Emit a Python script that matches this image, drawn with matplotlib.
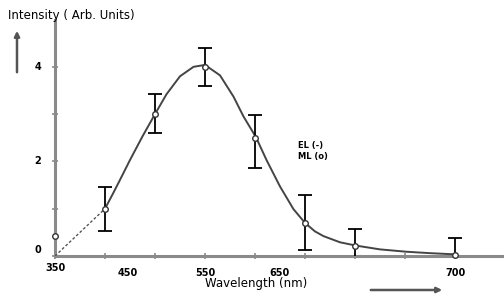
import matplotlib
matplotlib.use("Agg")
import matplotlib.pyplot as plt

# ML measurements (position index along wavelength axis)
ml_x = [0, 1, 2, 3, 4, 5, 6, 8]
ml_y = [0.42, 1.0, 3.0, 4.0, 2.5, 0.7, 0.21, 0.02]
ml_err_lo = [0.0, 0.47, 0.4, 0.4, 0.64, 0.57, 0.4, 0.44]
ml_err_hi = [0.0, 0.45, 0.43, 0.4, 0.48, 0.59, 0.36, 0.36]

# EL curve
el_x = [0, 0.5, 1, 1.15, 1.3, 1.5, 1.75, 2, 2.23, 2.5, 2.77, 3, 3.3, 3.57, 3.77, 4.02,
        4.23, 4.5, 4.77, 5, 5.2, 5.37, 5.7, 6.02, 6.5, 7.03, 7.5, 8]
el_y = [0.0, 0.5, 1.0, 1.3, 1.61, 2.03, 2.53, 3.0, 3.42, 3.8, 4.0, 4.04, 3.82, 3.37,
        2.95, 2.51, 2.03, 1.47, 0.99, 0.7, 0.52, 0.42, 0.29, 0.22, 0.14, 0.09, 0.06, 0.035]

x_tick_labels = ["350", "450", "550", "650", "700"]
x_label_pos = [0, 1.46, 3.0, 4.5, 8.0]
y_tick_labels = ["0", "2", "4"]
y_label_pos = [0, 2, 4]

fig = plt.figure(figsize=(5.04, 3.02), dpi=100)
ax = fig.add_axes([55/504, (302-256)/302, (504-55)/504, (256-20)/302])
ax.set_xlim(0, 8.98)
ax.set_ylim(0, 4.99)

axis_col = "#8a8a8a"
for s in ["top", "right"]:
    ax.spines[s].set_visible(False)
for s in ["left", "bottom"]:
    ax.spines[s].set_color(axis_col)
    ax.spines[s].set_linewidth(2.2)
ax.spines["left"].set_zorder(0)
ax.spines["bottom"].set_zorder(0)

ax.set_xticks(range(0, 9))
ax.set_xticklabels([])
ax.set_yticks(range(0, 5))
ax.set_yticklabels([])
ax.tick_params(axis="both", direction="inout", length=4, width=1.2, color=axis_col)

# EL curve: dotted first segment, solid afterwards
ax.plot(el_x[:3], el_y[:3], color="#555555", lw=1.0, ls=(0, (2, 1.5)), zorder=2)
ax.plot(el_x[2:], el_y[2:], color="#444444", lw=1.4, zorder=2,
        solid_joinstyle="round")

# ML points with error bars
ax.errorbar(ml_x[1:], ml_y[1:], yerr=[ml_err_lo[1:], ml_err_hi[1:]], fmt="none",
            ecolor="black", elinewidth=1.3, capsize=5, capthick=1.3, zorder=3)
ax.plot(ml_x, ml_y, ls="none", marker="o", ms=4, mfc="white", mec="#333333",
        mew=1.0, zorder=4, clip_on=False)

for p, t in zip(x_label_pos, x_tick_labels):
    dy = -0.15 if p == 0 else -0.25
    ax.text(p, dy, t, ha="center", va="top", fontsize=7, fontweight="bold",
            clip_on=False)
for p, t in zip(y_label_pos, y_tick_labels):
    off = 0.12 if p == 0 else 0
    ax.text(-0.28, p + off, t, ha="right", va="center", fontsize=7,
            fontweight="bold", clip_on=False)

ax.text(4.85, 2.33, "EL (-)", fontsize=6, fontweight="bold", ha="left", va="center")
ax.text(4.85, 2.1, "ML (o)", fontsize=6, fontweight="bold", ha="left", va="center")

fig.text(8/504, 1 - 15/302, "Intensity ( Arb. Units)", fontsize=8.5, ha="left", va="center")
fig.text(205/504, 1 - 284/302, "Wavelength (nm)", fontsize=8.5, ha="left", va="center")

fig.add_artist(matplotlib.patches.FancyArrowPatch(
    (17/504, 1 - 75/302), (17/504, 1 - 28/302), transform=fig.transFigure,
    arrowstyle="-|>,head_length=3,head_width=1.5", color="#555555", lw=1.8))
fig.add_artist(matplotlib.patches.FancyArrowPatch(
    (368/504, 1 - 290/302), (445/504, 1 - 290/302), transform=fig.transFigure,
    arrowstyle="-|>,head_length=3,head_width=1.5", color="#555555", lw=1.8))

fig.savefig("out.png", dpi=100)
